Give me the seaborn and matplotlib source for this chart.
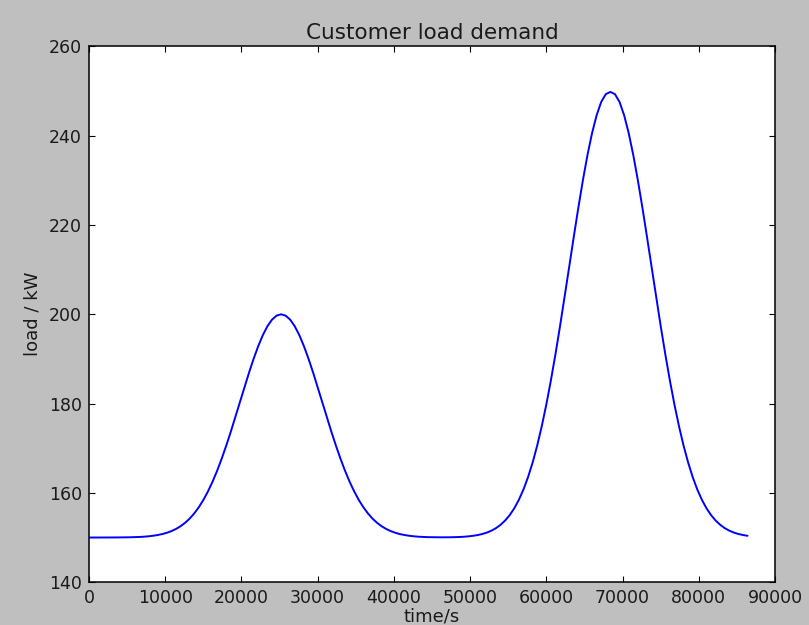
import matplotlib
matplotlib.use("Agg")
import matplotlib.pyplot as plt
import seaborn as sns
import pandas as pd

# time samples (s), one every 600 s, and load readings (kW)
time_s = [m * 600 for m in range(145)]
load_kw = [
    150.00, 150.00, 150.00, 150.00, 150.01, 150.01, 150.02, 150.03, 150.04, 150.06,
    150.09, 150.13, 150.19, 150.28, 150.40, 150.56, 150.77, 151.06, 151.43, 151.91,
    152.52, 153.29, 154.23, 155.39, 156.77, 158.40, 160.30, 162.47, 164.91, 167.62,
    170.56, 173.69, 176.97, 180.33, 183.68, 186.95, 190.04, 192.85, 195.30, 197.30,
    198.78, 199.69, 200.00, 199.69, 198.78, 197.30, 195.30, 192.85, 190.04, 186.95,
    183.68, 180.33, 176.97, 173.69, 170.56, 167.62, 164.91, 162.47, 160.30, 158.40,
    156.77, 155.39, 154.23, 153.29, 152.52, 151.91, 151.43, 151.06, 150.77, 150.56,
    150.40, 150.28, 150.19, 150.13, 150.09, 150.07, 150.05, 150.05, 150.05, 150.06,
    150.09, 150.12, 150.18, 150.27, 150.39, 150.56, 150.79, 151.11, 151.54, 152.11,
    152.86, 153.82, 155.04, 156.57, 158.47, 160.77, 163.53, 166.80, 170.60, 174.94,
    179.82, 185.23, 191.11, 197.38, 203.94, 210.65, 217.36, 223.90, 230.07, 235.70,
    240.60, 244.60, 247.56, 249.30, 249.80, 249.30, 247.56, 244.60, 240.60, 235.70,
    230.07, 223.90, 217.36, 210.65, 203.94, 197.38, 191.11, 185.23, 179.82, 174.94,
    170.60, 166.80, 163.53, 160.77, 158.47, 156.57, 155.04, 153.82, 152.86, 152.11,
    151.54, 151.11, 150.79, 150.56, 150.39,
]
x_ticks = [0, 10000, 20000, 30000, 40000, 50000, 60000, 70000, 80000, 90000]
y_ticks = [140, 160, 180, 200, 220, 240, 260]

sns.set_style("white")
plt.rcParams["font.family"] = ["DejaVu Sans"]
plt.rcParams["text.color"] = "#1a1a1a"
plt.rcParams["axes.labelcolor"] = "#1a1a1a"

df = pd.DataFrame({"time": time_s, "load": load_kw})

fig = plt.figure(figsize=(8.09, 6.25), dpi=100, facecolor="#bfbfbf")
ax = fig.add_axes([0.110, 0.0685, 0.848, 0.8573])
ax.set_facecolor("white")

sns.lineplot(data=df, x="time", y="load", ax=ax, color="#0000ff", linewidth=1.4)

ax.set_xlim(0, 90000)
ax.set_ylim(140, 260)
ax.set_xticks(x_ticks)
ax.set_yticks(y_ticks)
ax.set_xticklabels([str(v) for v in x_ticks], fontsize=12.5, color="#1a1a1a")
ax.set_yticklabels([str(v) for v in y_ticks], fontsize=12.5, color="#1a1a1a")
ax.tick_params(direction="in", length=4, width=0.8, top=True, right=True,
               bottom=True, left=True, colors="black", pad=5,
               labelcolor="#1a1a1a")
for s in ax.spines.values():
    s.set_color("black")
    s.set_linewidth(1.1)

ax.set_title("Customer load demand", fontsize=15.5, pad=5)
ax.set_xlabel("time/s", fontsize=13, labelpad=0)
ax.set_ylabel("load / kW", fontsize=13, labelpad=5)

fig.savefig("out.png", dpi=100, facecolor=fig.get_facecolor())
